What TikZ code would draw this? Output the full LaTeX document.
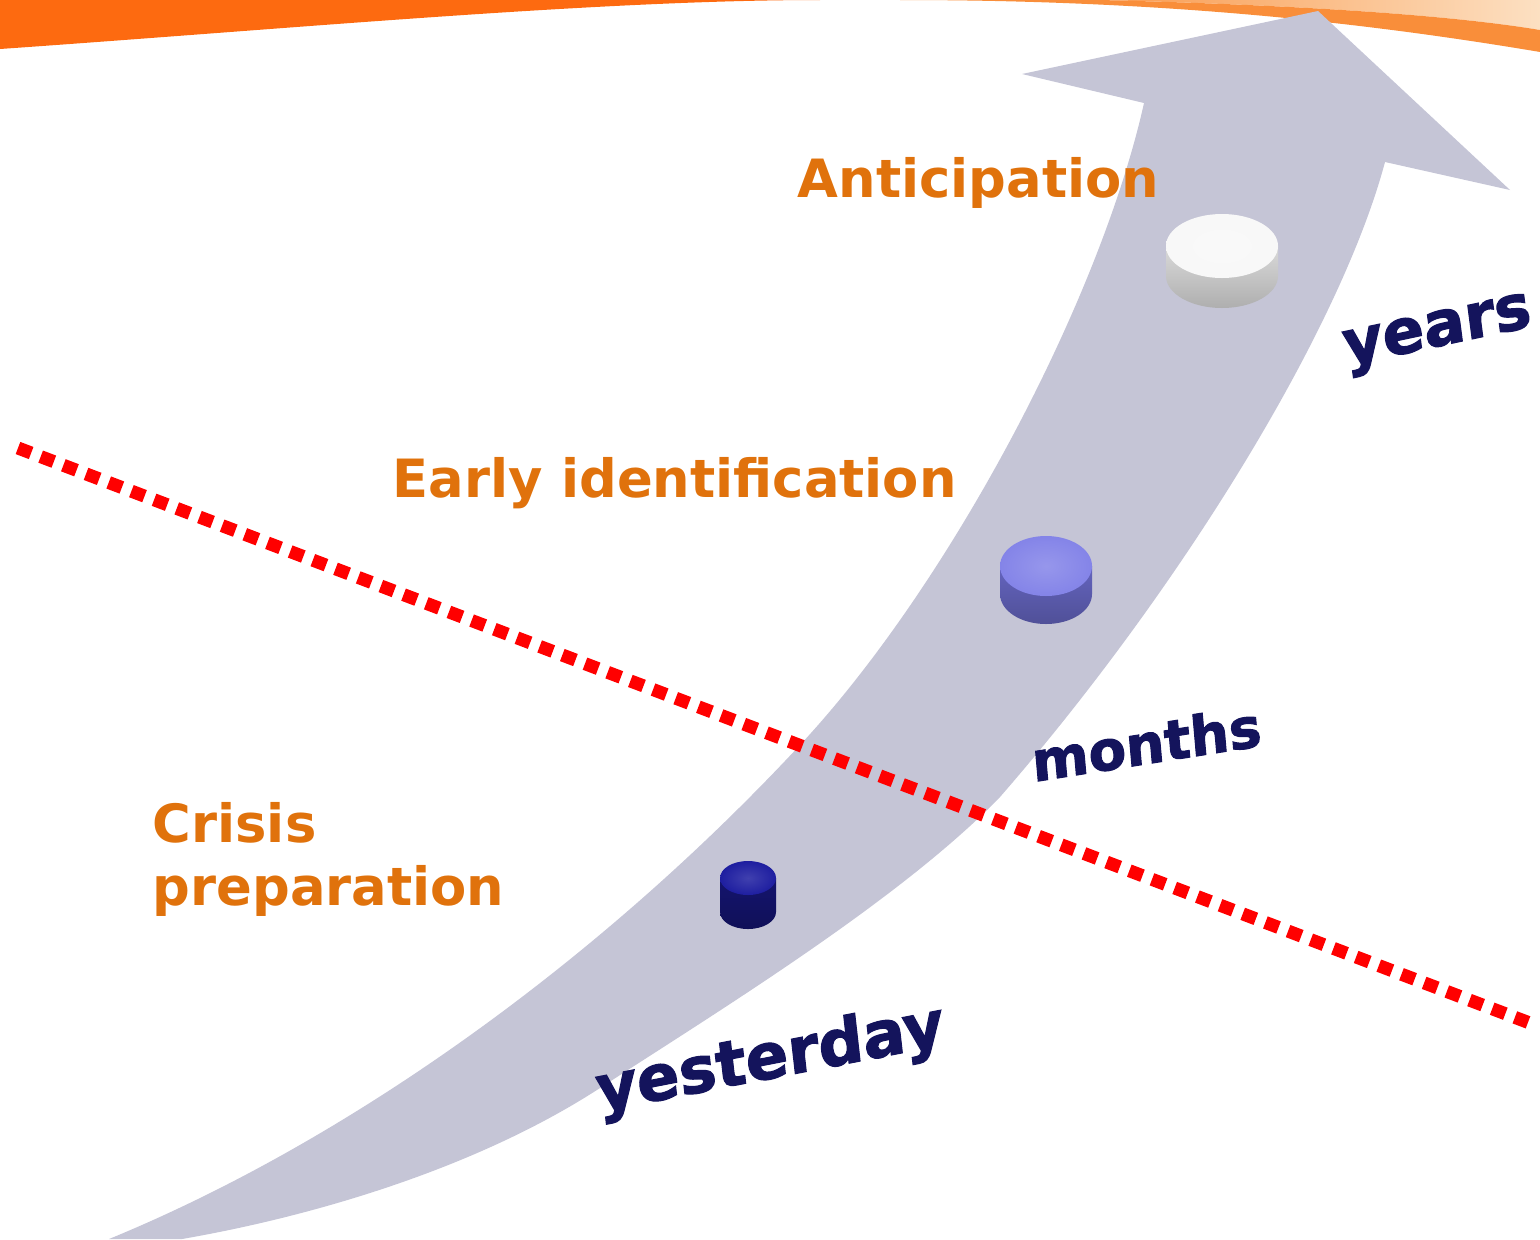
\documentclass[tikz,border=0pt]{standalone}
\usepackage{fontspec}
\usepackage{tikz}
\setmainfont{DejaVu Sans}
\newfontfamily\horizonfont[FakeBold=1.8]{DejaVu Sans Bold}
\definecolor{bandgray}{RGB}{197,197,214}
\definecolor{phaseorange}{RGB}{224,114,12}
\definecolor{swooshorange}{RGB}{253,106,16}
\definecolor{swooshlight}{RGB}{249,142,58}
\definecolor{swooshpeach}{RGB}{252,224,194}
\definecolor{horizonblue}{RGB}{20,20,92}
\definecolor{cutred}{RGB}{255,0,0}
\definecolor{navytop}{RGB}{30,30,160}
\definecolor{navyside}{RGB}{20,20,110}
\definecolor{purpletop}{RGB}{132,132,232}
\definecolor{purpleside}{RGB}{100,100,190}
\definecolor{whitetop}{RGB}{248,248,248}
\definecolor{whiteside}{RGB}{218,218,218}

\begin{document}
\begin{tikzpicture}[x=0.01cm, y=-0.01cm,
    phase/.style={text=phaseorange, font=\bfseries\fontsize{15}{17.9}\selectfont, inner sep=0pt},
    horizon/.style={text=horizonblue, inner sep=0pt, anchor=base west}]
    \useasboundingbox (0,0) rectangle (1540,1239);

    % Header swoosh
    \fill[swooshorange] (0,0) -- (0,49) .. controls (300,28) and (600,0) .. (820,0) -- cycle;
    \shade[left color=swooshlight!85!swooshpeach, right color=swooshpeach] (1100,0) .. controls (1300,5) and (1450,15) .. (1540,30) -- (1540,0) -- cycle;
    \fill[swooshlight] (900,0) .. controls (1150,0) and (1350,20) .. (1540,52) -- (1540,30) .. controls (1450,15) and (1300,5) .. (1100,0) -- cycle;

    % Time arrow
    \fill[bandgray] (109,1239) .. controls (350,1140) and (600,960) .. (800,745)
        .. controls (950,584) and (1100,300) .. (1144,103)
        -- (1022,74) -- (1318,11) -- (1510,190) -- (1385,162)
        .. controls (1340,330) and (1180,590) .. (1000,797)
        .. controls (900,900) and (720,1010) .. (600,1088)
        .. controls (480,1166) and (320,1215) .. (182,1239) -- cycle;

    % Cut-off line
    \coordinate (cutstart) at (18,448);
    \coordinate (cutend) at (1535,1025);
    \draw[cutred, line width=3.7pt, dash pattern=on 4pt off 2.9pt] (cutstart) -- (cutend);

    % Pucks
    \foreach \px/\py/\rx/\ry/\h/\ptop/\pside in {748/878/28/17/34/navytop/navyside, 1046/566/46/30/28/purpletop/purpleside, 1222/246/56/32/30/whitetop/whiteside} {
        \shade[top color=\pside, bottom color=\pside!80!black] (\px-\rx,\py) -- (\px-\rx,\py+\h) arc[start angle=180, end angle=0, x radius=\rx, y radius=\ry] -- (\px+\rx,\py) -- cycle;
        \shade[inner color=\ptop!85!white, outer color=\ptop] (\px,\py) ellipse [x radius=\rx, y radius=\ry];
    }

    % Phase labels
    \node[phase, anchor=base west] (anticipation) at (797,197) {Anticipation};
    \node[phase, anchor=base west] (earlyid) at (392,497) {Early identification};
    \node[phase, anchor=north west, align=left] (crisisprep) at (152,802) {Crisis\\preparation};

    % Horizon labels
    \node[horizon, rotate=11, xslant=0.08, font=\horizonfont\fontsize{18}{18}\selectfont] (yesterday) at (598,1112) {yesterday};
    \node[horizon, rotate=9, xslant=0.07, font=\horizonfont\fontsize{15.6}{15.6}\selectfont] (months) at (1033,782) {months};
    \node[horizon, rotate=12, xslant=0.08, font=\horizonfont\fontsize{17.6}{17.6}\selectfont] (years) at (1345,366) {years};
\end{tikzpicture}
\end{document}
